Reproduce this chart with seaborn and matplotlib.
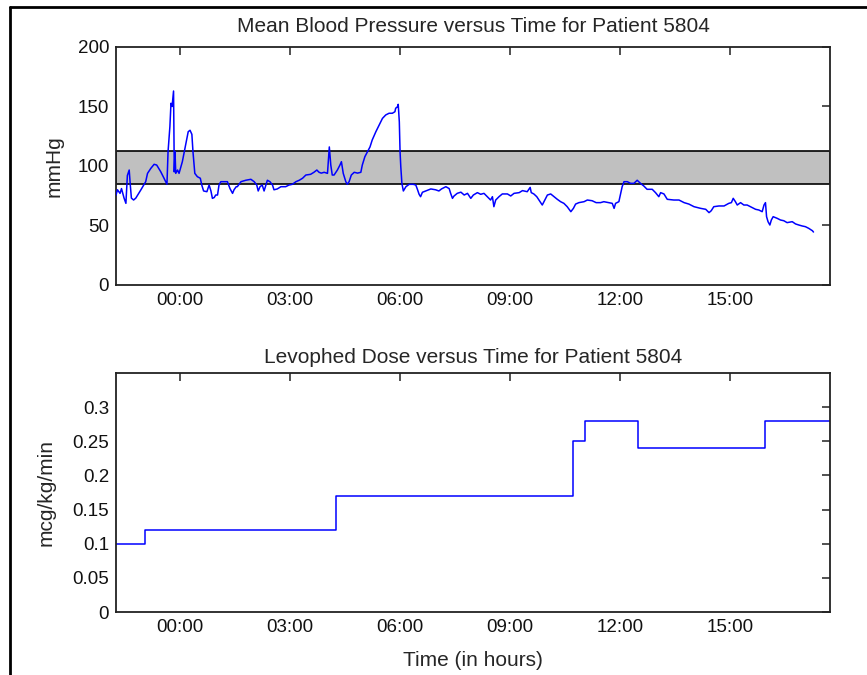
import numpy as np
import pandas as pd
import matplotlib
matplotlib.use("Agg")
import matplotlib.pyplot as plt
from matplotlib.lines import Line2D
from matplotlib.ticker import FormatStrFormatter
import seaborn as sns

# ---------------- data ----------------
bp_hours = [-1.75, -1.71, -1.64, -1.60, -1.53, -1.48, -1.44, -1.39, -1.36, -1.33, -1.27, -1.21,
            -1.07, -0.94, -0.89, -0.80, -0.71, -0.64, -0.53, -0.44, -0.36, -0.33, -0.28, -0.25,
            -0.22, -0.18, -0.16, -0.14, -0.12, -0.07, -0.03, 0.06, 0.13, 0.18, 0.22, 0.27, 0.32,
            0.35, 0.40, 0.47, 0.55, 0.59, 0.64, 0.73, 0.79, 0.84, 0.88, 0.93, 0.97, 1.02, 1.06,
            1.11, 1.25, 1.29, 1.36, 1.43, 1.47, 1.53,
            1.56, 1.66, 1.79, 1.93, 2.02, 2.09, 2.13, 2.18, 2.24, 2.29, 2.34, 2.38, 2.45, 2.52,
            2.56, 2.65, 2.75, 2.88, 2.97, 3.06, 3.16, 3.25, 3.34, 3.43, 3.56, 3.65, 3.73, 3.79,
            3.85, 3.93, 4.02, 4.07, 4.11, 4.15, 4.20, 4.29, 4.36, 4.40, 4.45, 4.52, 4.56, 4.61,
            4.67, 4.75,
            4.84, 4.93, 4.97, 5.04, 5.11, 5.18, 5.24, 5.34, 5.43, 5.52, 5.61, 5.70, 5.79, 5.86,
            5.88, 5.93, 5.95, 5.98, 6.00, 6.02, 6.05, 6.09, 6.16, 6.25, 6.36, 6.43, 6.47, 6.52,
            6.56, 6.61, 6.70, 6.84, 6.97, 7.06, 7.13, 7.25, 7.34, 7.38, 7.43, 7.47, 7.56, 7.66,
            7.75, 7.84, 7.93, 8.00,
            8.11, 8.20, 8.29, 8.38, 8.47, 8.52, 8.56, 8.61, 8.70, 8.79, 8.93, 9.02, 9.11, 9.25,
            9.34, 9.47, 9.55, 9.58, 9.65, 9.73, 9.79, 9.88, 9.95, 10.02, 10.11, 10.20, 10.29,
            10.38, 10.47, 10.56, 10.66, 10.73, 10.79, 10.88, 11.02, 11.11, 11.24,
            11.35, 11.47, 11.56, 11.70, 11.79, 11.84, 11.88, 11.97, 12.02, 12.06, 12.11, 12.20,
            12.29, 12.38, 12.47, 12.56, 12.65, 12.74, 12.88, 12.97, 13.06, 13.11, 13.20, 13.29,
            13.47, 13.61, 13.75, 13.88, 14.02, 14.20, 14.34, 14.43, 14.49, 14.56,
            14.70, 14.84, 14.97, 15.04, 15.09, 15.15, 15.20, 15.29, 15.38, 15.47, 15.56, 15.70,
            15.79, 15.88, 15.93, 15.97, 16.00, 16.04, 16.09, 16.13, 16.18, 16.29, 16.38, 16.47,
            16.56, 16.70, 16.79, 16.88, 16.97, 17.06, 17.15, 17.25, 17.28]
bp_mmhg = [75.6, 80, 77, 81, 73, 68.6, 92, 96.6, 84, 73, 71.4, 73,
           80, 86.8, 93.8, 98, 101.4, 100.8, 95.2, 89.7, 84.6, 112, 133, 152.7,
           150, 163, 95, 112, 93.8, 96.6, 93.8, 103.6, 114.8, 123, 128.8, 130, 126.6,
           112, 93.8, 91, 89.7, 84, 79, 78.4, 84, 79, 72.8, 73.5, 75.6, 75.6, 84,
           86.8, 86.8, 86.8, 81, 77, 80, 82.6,
           82.6, 86.8, 88, 88.8, 86.8, 84, 79, 82.6, 84, 79, 84, 88, 86.8, 84,
           80, 80.7, 82.6, 82.6, 84, 84.6, 86.8, 88, 89.7, 92.4, 93, 94.7, 96.6, 94.7,
           94, 94.7, 93.8, 116, 100.8, 92.4, 92.4, 96.6, 100.8, 103.6, 93.8, 86.8, 84.6, 86.8,
           92.4, 94.7,
           94, 94.7, 100.8, 107.8, 112, 116, 121.8, 128.8, 134.5, 140, 142.9, 144.3, 144.3, 145.6,
           148.5, 149.8, 151.8, 137, 112, 99.4, 85.4, 79, 82.6, 84.6, 84.6, 84, 80.7, 76.2,
           74.2, 77.9, 79, 80.7, 80, 79, 80.7, 82.6, 81, 77, 72.8, 74.7, 77, 78,
           75.6, 77, 72.8, 75.6,
           77.6, 76.2, 77, 74.2, 71.4, 74.2, 65.8, 71.4, 74.2, 76.5, 76.5, 74.8, 77, 77.6,
           79.3, 78.4, 82, 77.6, 76.5, 74.2, 71.4, 67.2, 71.4, 75.6, 76.5, 74.2, 72,
           70, 68.6, 65.8, 61.6, 64.4, 68, 69.2, 70, 71.4, 70.8,
           69.2, 69.2, 70, 69.2, 68.6, 64.4, 68.6, 70, 77, 82.6, 86.8, 86.8,
           85.4, 85.4, 88, 85.4, 83.2, 80.4, 80.4, 77.6, 74.2, 77.6, 76.5, 72,
           71.4, 71.4, 69.2, 68, 65.8, 64.4, 63.6, 60.8, 62.4, 65.8,
           66.4, 66.4, 68.6, 69.2, 72.8, 70, 67.2, 69.2, 67.2, 67.2, 65.8, 63.6,
           63, 61.6, 67.2, 69.2, 57.4, 53.2, 50.4, 54.6, 57.4, 56, 54.6, 54,
           52.4, 53.2, 51.3, 50.4, 49.6, 49, 47.6, 45.6, 44.5]

band_low, band_high = 85, 113

dose_hours = [-1.75, -0.97, 4.25, 10.71, 11.05, 12.50, 15.97, 17.73]
dose_values = [0.10, 0.12, 0.17, 0.25, 0.28, 0.24, 0.28, 0.28]

x_ticks = [0, 3, 6, 9, 12, 15]
x_tick_labels = ["00:00", "03:00", "06:00", "09:00", "12:00", "15:00"]
bp_yticks = [0, 50, 100, 150, 200]
dose_yticks = [0, 0.05, 0.1, 0.15, 0.2, 0.25, 0.3]

title_bp = "Mean Blood Pressure versus Time for Patient 5804"
title_dose = "Levophed Dose versus Time for Patient 5804"

# ---------------- style ----------------
sns.set_style("white")
plt.rcParams["font.family"] = ["Liberation Sans", "DejaVu Sans"]
plt.rcParams["font.size"] = 13.5
plt.rcParams["xtick.direction"] = "in"
plt.rcParams["ytick.direction"] = "in"

label_size = 15
tick_size = 13.5

bp_df = pd.DataFrame({"hours": bp_hours, "mmHg": bp_mmhg})
dose_df = pd.DataFrame({"hours": dose_hours, "dose": dose_values})

fig = plt.figure(figsize=(8.67, 6.75), dpi=100)
fig.patch.set_facecolor("white")

ax1 = fig.add_axes([0.1338, 0.5778, 0.8235, 0.3526])
ax2 = fig.add_axes([0.1338, 0.0933, 0.8235, 0.3541])

xmin, xmax = -1.75, 17.73

# top panel
ax1.axhspan(band_low, band_high, facecolor="#c0c0c0", edgecolor="black", linewidth=1.2, zorder=1)
sns.lineplot(data=bp_df, x="hours", y="mmHg", ax=ax1, sort=False, estimator=None,
             color="#0000ff", linewidth=1.1, zorder=3)
ax1.set_xlim(xmin, xmax)
ax1.set_ylim(0, 200)
ax1.set_yticks(bp_yticks)
ax1.set_xticks(x_ticks)
ax1.set_xticklabels(x_tick_labels)
ax1.set_xlabel("")
ax1.set_ylabel("mmHg", fontsize=label_size, labelpad=10)
ax1.set_title(title_bp, fontsize=label_size, pad=11)

# bottom panel
sns.lineplot(data=dose_df, x="hours", y="dose", ax=ax2, sort=False, estimator=None,
             color="#0000ff", linewidth=1.1, drawstyle="steps-post")
ax2.set_xlim(xmin, xmax)
ax2.set_ylim(0, 0.35)
ax2.set_yticks(dose_yticks)
ax2.yaxis.set_major_formatter(FormatStrFormatter("%g"))
ax2.set_xticks(x_ticks)
ax2.set_xticklabels(x_tick_labels)
ax2.set_xlabel("Time (in hours)", fontsize=label_size, labelpad=11)
ax2.set_ylabel("mcg/kg/min", fontsize=label_size, labelpad=12)
ax2.set_title(title_dose, fontsize=label_size, pad=7)

for ax in (ax1, ax2):
    ax.set_facecolor("white")
    for s in ax.spines.values():
        s.set_visible(True)
        s.set_color("#222222")
        s.set_linewidth(1.3)
    ax.tick_params(axis="both", which="major", direction="in", length=6, width=1.1,
                   colors="#222222", labelcolor="#111111", labelsize=tick_size,
                   top=True, right=True, pad=5)

# frame of the original screenshot (left and top edges)
fig.add_artist(Line2D([10 / 867, 10 / 867], [0, 1 - 7 / 675], transform=fig.transFigure,
                      color="black", linewidth=2.0))
fig.add_artist(Line2D([10 / 867, 1], [1 - 7 / 675, 1 - 7 / 675], transform=fig.transFigure,
                      color="black", linewidth=2.0))

fig.savefig("out.png", dpi=100, facecolor="white")
